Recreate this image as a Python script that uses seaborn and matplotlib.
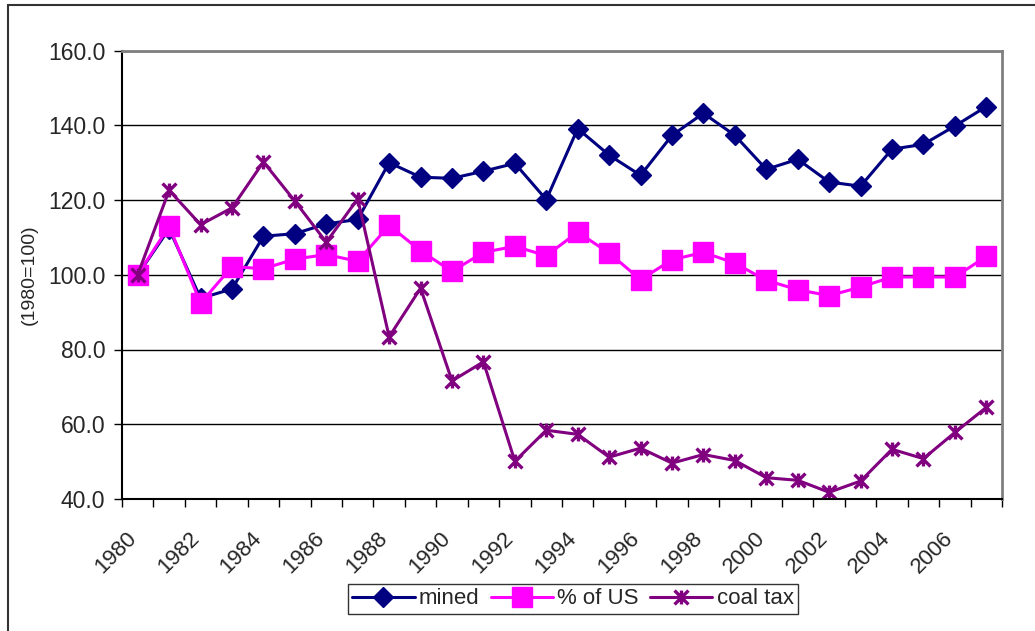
import numpy as np
import pandas as pd
import matplotlib
matplotlib.use("Agg")
import matplotlib.pyplot as plt
import matplotlib.transforms as mtransforms
from matplotlib.path import Path
from matplotlib.patches import Rectangle
import seaborn as sns

years = list(range(1980, 2008))
mined = [100.0, 112.3, 93.7, 96.2, 110.3, 111.0, 113.6, 114.8, 130.0, 126.1,
         125.8, 127.7, 129.8, 120.1, 139.1, 132.0, 126.6, 137.3, 143.2, 137.3,
         128.2, 130.9, 124.8, 123.7, 133.6, 134.9, 139.8, 145.0]
pct_us = [100.0, 113.0, 92.4, 102.2, 101.6, 104.2, 105.4, 103.6, 113.2, 106.4,
          100.9, 106.0, 107.6, 105.1, 111.4, 105.8, 98.7, 104.0, 106.0, 103.1,
          98.5, 96.0, 94.4, 96.7, 99.4, 99.4, 99.4, 104.9]
coal_tax = [100.0, 122.6, 113.4, 117.9, 130.2, 119.7, 108.7, 120.3, 83.4, 96.4,
            71.6, 76.7, 50.1, 58.4, 57.3, 51.2, 53.6, 49.6, 51.9, 50.3,
            45.7, 45.0, 41.8, 44.8, 53.3, 50.8, 57.8, 64.5]
series_names = ["mined", "% of US", "coal tax"]
tick_years = list(range(1980, 2007, 2))

df = pd.DataFrame({
    "year": years * 3,
    "value": mined + pct_us + coal_tax,
    "series": [n for n in series_names for _ in years],
})

sns.set_style("white")
plt.rcParams["font.family"] = ["Liberation Sans", "DejaVu Sans"]

# Excel-like asterisk: vertical bar plus an X
star = Path([(0, -1), (0, 1), (-1, -1), (1, 1), (-1, 1), (1, -1)],
            [Path.MOVETO, Path.LINETO, Path.MOVETO, Path.LINETO, Path.MOVETO, Path.LINETO])

styles = {
    "mined": dict(color="#000080", marker="D", markersize=10, mec="#000080", mew=1),
    "% of US": dict(color="#FF00FF", marker="s", markersize=14, mec="#FF00FF", mew=1),
    "coal tax": dict(color="#800080", marker=star, markersize=10, mec="#800080", mew=2.4),
}

fig = plt.figure(figsize=(10.35, 6.31), dpi=100)
ax = fig.add_axes([122 / 1035, 1 - 499 / 631, (1002 - 122) / 1035, (499 - 50.5) / 631])

for name in series_names:
    sub = df[df["series"] == name]
    st = styles[name]
    sns.lineplot(data=sub, x="year", y="value", ax=ax, label=name,
                 color=st["color"], marker=st["marker"], markersize=st["markersize"],
                 markeredgecolor=st["mec"], markeredgewidth=st["mew"],
                 markerfacecolor=st["color"], linewidth=2.2)

ax.set_xlim(1979.5, 2007.5)
ax.set_ylim(40, 160)
ax.set_yticks(np.arange(40, 161, 20))
ax.set_yticklabels([f"{v:.1f}" for v in np.arange(40, 161, 20)], fontsize=16.5)
ax.yaxis.grid(True, color="black", linewidth=1)
ax.set_axisbelow(True)

ax.set_xticks(np.arange(1979.5, 2008, 1))
ax.set_xticklabels([])
ax.set_xticks(tick_years, minor=True)
ax.set_xticklabels([str(y) for y in tick_years], minor=True, fontsize=16,
                   rotation=45, ha="right", va="top", rotation_mode="anchor")
ax.tick_params(axis="x", which="major", direction="out", length=6, width=1, color="black", bottom=True)
ax.tick_params(axis="x", which="minor", length=0, pad=21)
ax.tick_params(axis="y", direction="out", length=6, width=1, color="black", left=True, pad=6)
shift = mtransforms.ScaledTranslation(-12 / 100, 0, fig.dpi_scale_trans)
for lab in ax.get_xticklabels(minor=True):
    lab.set_transform(lab.get_transform() + shift)

ax.set_xlabel("")
ax.set_ylabel("(1980=100)", fontsize=14, labelpad=7)

for side in ["left", "bottom"]:
    ax.spines[side].set_color("black")
    ax.spines[side].set_linewidth(1.5)
for side in ["top", "right"]:
    ax.spines[side].set_visible(True)
    ax.spines[side].set_color("#808080")
    ax.spines[side].set_linewidth(2)

ax.get_legend().remove()
handles, labels = ax.get_legend_handles_labels()
leg = fig.legend(handles, labels, loc="center", bbox_to_anchor=(573 / 1035, 1 - 599 / 631),
                 ncol=3, fontsize=16, frameon=True, fancybox=False, handlelength=2.8,
                 handletextpad=0.2, columnspacing=0.5, borderpad=0.2)
leg.get_frame().set_edgecolor("black")
leg.get_frame().set_linewidth(1)

fig.patches.append(Rectangle((8 / 1035, -0.1), 1.2, 1.1 - 5 / 631,
                             transform=fig.transFigure, fill=False,
                             edgecolor="#333333", linewidth=1.5))

fig.savefig("out.png", dpi=100)
